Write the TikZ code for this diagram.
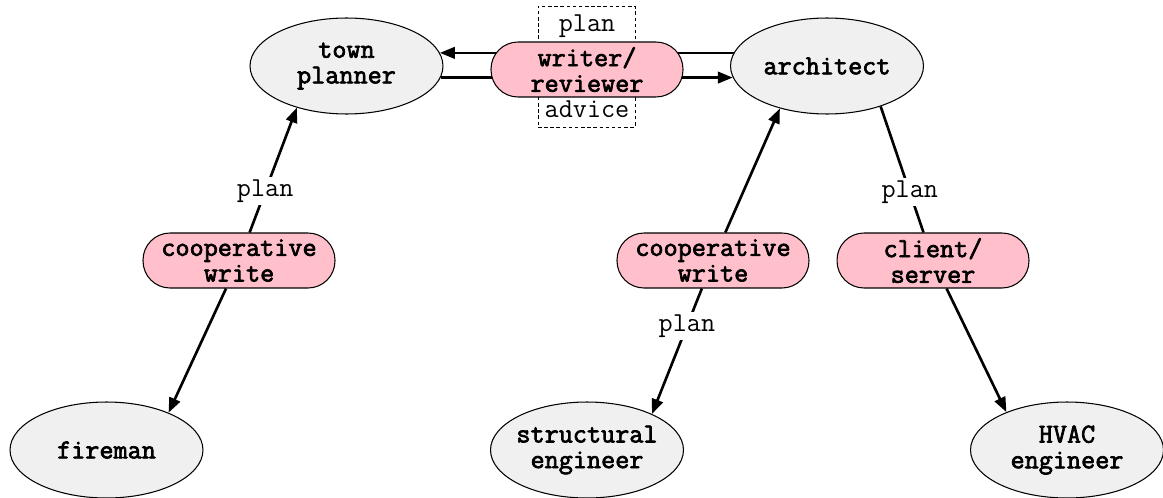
\documentclass[tikz,border=0pt]{standalone}
\usepackage{fontspec}
\newfontfamily\heavytt{Latin Modern Mono}[FakeBold=2.6]
\usetikzlibrary{shapes.geometric,arrows.meta,backgrounds}
\definecolor{rolepink}{RGB}{255,192,203}
\definecolor{actorgray}{RGB}{240,240,240}
\newcommand{\talkfont}{\fontsize{15.6}{14.6}\selectfont\ttfamily}
\newcommand{\namefont}{\fontsize{15.6}{14.6}\selectfont\heavytt}
\begin{document}
\begin{tikzpicture}[x=0.02cm, y=-0.02cm, font=\talkfont, line join=round, >={Triangle[length=8.5pt,width=6.5pt]},
 actor/.style={ellipse, draw, line width=0.6pt, fill=actorgray, inner xsep=-0.3cm, inner ysep=0pt, minimum width=3.86cm, minimum height=1.92cm, align=center, font=\namefont},
 role/.style={rectangle, draw, rounded corners=0.54cm, line width=0.6pt, fill=rolepink, inner sep=0pt, minimum width=3.84cm, minimum height=1.1cm, align=center, font=\namefont},
 link/.style={line width=1.5pt},
 flow/.style={fill=white, inner sep=1.5pt}]
 \useasboundingbox (0,0) rectangle (1163,497);
 % people
 \node[actor] (planner) at (346.5,66) {town\\planner};
 \node[actor] (architect) at (827,66) {architect};
 \node[actor] (fireman) at (106.5,450) {fireman};
 \node[actor] (structural) at (587,450) {structural\\engineer};
 \node[actor] (hvac) at (1067,450) {HVAC\\engineer};
 % roles
 \node[role] (review) at (587,69.5) {writer/\\reviewer};
 \node[role] (coopA) at (239,260.5) {cooperative\\write};
 \node[role] (coopB) at (713,260.5) {cooperative\\write};
 \node[role] (client) at (933,260.5) {client/\\server};
 \begin{pgfonlayer}{background}
 \node[draw, line width=0.5pt, dash pattern=on 2pt off 1.5pt, minimum width=1.94cm, minimum height=2.42cm] (reviewbox) at (586.5,66.5) {};
 \node (reviewplan) at (587,26) {plan};
 \node (reviewadvice) at (587,109) {advice};
 \draw[link, ->] (architect.172) -- (planner.8);
 \draw[link, ->] (planner.-7.3) -- (architect.187.3);
 \end{pgfonlayer}
 % links
 \draw[link, ->] (coopA) -- (planner.220) node[flow, pos=0.33] {plan};
 \draw[link, ->] (coopA) -- (fireman.31);
 \draw[link, ->] (coopB) -- (architect.222);
 \draw[link, ->] (coopB) -- (structural.29) node[flow, pos=0.3] {plan};
 \draw[link] (architect.323) -- (client) node[flow, pos=0.68] {plan};
 \draw[link, ->] (client) -- (hvac.148);
\end{tikzpicture}
\end{document}
